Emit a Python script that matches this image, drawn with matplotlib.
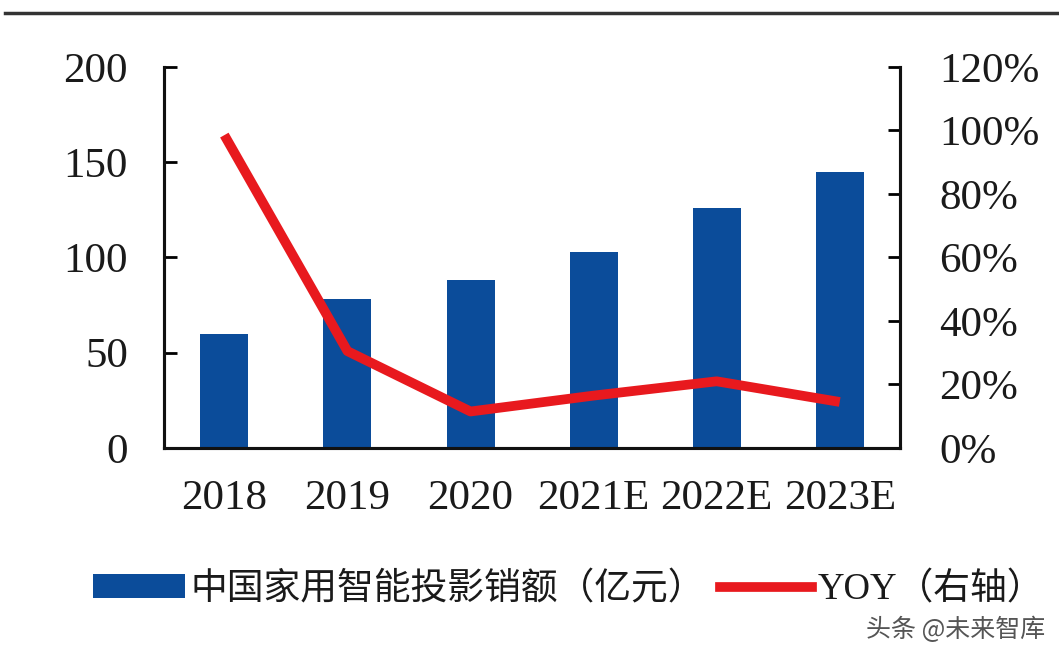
import numpy as np
import matplotlib.pyplot as plt
from matplotlib.lines import Line2D
from matplotlib.patches import Patch

# 数据
years = ['2018', '2019', '2020', '2021E', '2022E', '2023E']
sales = [60, 78, 88, 103, 126, 145]          # 亿元
yoy = [0.985, 0.305, 0.115, 0.165, 0.21, 0.145]

bar_label = '中国家用智能投影销额（亿元）'
line_label = 'YOY（右轴）'

serif_cjk = ['Liberation Serif', 'Noto Sans CJK SC', 'DejaVu Sans']

fig = plt.figure(figsize=(10.59, 6.55), dpi=100)
ax = fig.add_axes([0.1549, 0.316, 0.6950, 0.582])
x = np.arange(len(years))

ax.bar(x, sales, width=0.39, color='#0B4C9A', zorder=2)
ax.set_xlim(-0.49, 5.49)
ax.set_ylim(0, 200)
ax.set_yticks([0, 50, 100, 150, 200])
ax.set_xticks(x)
ax.set_xticklabels(years)

ax2 = ax.twinx()
ax2.plot(x, yoy, color='#E8191E', lw=7, solid_capstyle='butt', zorder=3)
ax2.set_ylim(0, 1.2)
ax2.set_yticks(np.arange(0, 1.21, 0.2))
ax2.set_yticklabels([f'{int(round(v * 100))}%' for v in np.arange(0, 1.21, 0.2)])

for a in (ax, ax2):
    a.spines['top'].set_visible(False)
    for s in ('left', 'right', 'bottom'):
        a.spines[s].set_linewidth(2.2)
        a.spines[s].set_color('#111111')
    for lab in a.get_yticklabels() + a.get_xticklabels():
        lab.set_fontfamily(serif_cjk)
        lab.set_fontsize(31)
        lab.set_color('#1a1a1a')

ax.tick_params(axis='y', direction='in', length=9, width=2, pad=26)
ax.tick_params(axis='x', length=0, pad=23)
ax2.tick_params(axis='y', direction='in', length=9, width=2, pad=28)

# 顶部横线
fig.add_artist(Line2D([0.005, 1.0], [0.980, 0.980], color='#333333', lw=2.5))

handles = [Patch(facecolor='#0B4C9A', edgecolor='none'),
           Line2D([0], [0], color='#E8191E', lw=7)]
leg = fig.legend(handles, [bar_label, line_label], loc='center',
                 bbox_to_anchor=(0.537, 0.100), ncol=2, frameon=False,
                 handlelength=2.5, handleheight=0.6, handletextpad=0.15,
                 columnspacing=0.4,
                 prop={'family': serif_cjk, 'size': 26.5})
for t in leg.get_texts():
    t.set_color('#1a1a1a')

fig.text(0.987, 0.038, '头条 @未来智库', ha='right', va='center',
         fontsize=18, color='#555555',
         family=['Noto Sans CJK SC', 'DejaVu Sans'])

fig.savefig('out.png', dpi=100)
